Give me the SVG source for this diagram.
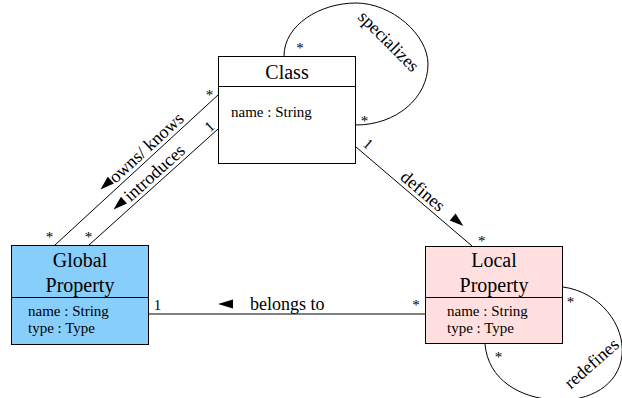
<svg xmlns="http://www.w3.org/2000/svg" width="622" height="398" viewBox="0 0 622 398">
<style>
text{font-family:"Liberation Serif","Times New Roman",serif;fill:#000}
.title{font-size:20px;text-anchor:middle}
.attr{font-size:15px}
.lbl{font-size:18px}
.mult{font-size:15px;text-anchor:middle}
.box{stroke:#000;stroke-width:1}
.edge{fill:none;stroke:#000;stroke-width:1}
.arr{fill:#000;stroke:none}
</style>
<rect width="622" height="398" fill="#fff"/>
<g id="connectors">
  <g id="e-owns">
    <line class="edge" x1="218" y1="95" x2="55" y2="245"/>
    <g transform="translate(55,245) rotate(-42.6)">
      <polygon class="arr" points="71,-10 85,-14.5 85,-5.5"/>
      <text class="lbl" x="133" y="-4" text-anchor="middle">owns/ knows</text>
    </g>
    <text class="mult" x="209.5" y="99.5">*</text>
    <text class="mult" x="49.5" y="241.5">*</text>
  </g>
  <g id="e-introduces">
    <line class="edge" x1="218" y1="129" x2="89" y2="245"/>
    <g transform="translate(89,245) rotate(-41.96)">
      <polygon class="arr" points="42,-10 56,-14.5 56,-5.5"/>
      <text class="lbl" x="97" y="-4" text-anchor="middle">introduces</text>
    </g>
    <text class="mult" transform="translate(209.5,126.5) rotate(-42)" x="0" y="5">1</text>
    <text class="mult" x="88.5" y="241.5">*</text>
  </g>
  <g id="e-defines">
    <line class="edge" x1="356" y1="147" x2="472" y2="246"/>
    <g transform="translate(356,147) rotate(40.48)">
      <text class="lbl" x="79.6" y="-4" text-anchor="middle">defines</text>
      <polygon class="arr" points="133,-9.5 119,-14 119,-5"/>
    </g>
    <text class="mult" transform="translate(368,144) rotate(40.5)" x="0" y="5">1</text>
    <text class="mult" x="481.7" y="246">*</text>
  </g>
  <g id="e-belongs">
    <line class="edge" x1="149" y1="314" x2="425" y2="314"/>
    <polygon class="arr" points="218,304 233,299.5 233,308.5"/>
    <text class="lbl" x="250" y="310">belongs to</text>
    <text class="mult" x="157.5" y="310">1</text>
    <text class="mult" x="416" y="309.5">*</text>
  </g>
  <g id="e-specializes">
    <path class="edge" d="M284,56 C284,25 320,3 356,3 C392,3 428,35 428,64 C428,98 396,125 356,125"/>
    <text class="lbl" transform="translate(384.5,45.5) rotate(45)" x="0" y="0" text-anchor="middle">specializes</text>
    <text class="mult" x="300" y="52.5">*</text>
    <text class="mult" x="364.5" y="125.5">*</text>
  </g>
  <g id="e-redefines">
    <path class="edge" d="M563,287 C600,292 625,325 622,355 C619,385 590,402 555,400 C520,398 488,380 485,344"/>
    <text class="lbl" transform="translate(595.5,368) rotate(-41.3)" x="0" y="0" text-anchor="middle" font-size="17.5">redefines</text>
    <text class="mult" x="570.5" y="306.5">*</text>
    <text class="mult" x="498.5" y="361.5">*</text>
  </g>
</g>
<g id="node-class">
  <rect class="box" x="218.5" y="56.5" width="137" height="107" fill="#fff"/>
  <line class="box" x1="218.5" y1="86.5" x2="355.5" y2="86.5"/>
  <text class="title" x="287" y="79">Class</text>
  <text class="attr" x="231" y="117">name : String</text>
</g>
<g id="node-global">
  <rect class="box" x="11.5" y="245.5" width="137" height="99" fill="#87cefa"/>
  <line class="box" x1="11.5" y1="297.5" x2="148.5" y2="297.5"/>
  <text class="title" x="80" y="267">Global</text>
  <text class="title" x="80" y="292">Property</text>
  <text class="attr" x="28" y="315.5">name : String</text>
  <text class="attr" x="28" y="332.5">type : Type</text>
</g>
<g id="node-local">
  <rect class="box" x="425.5" y="246.5" width="137" height="97" fill="#ffdfdf"/>
  <line class="box" x1="425.5" y1="297.5" x2="562.5" y2="297.5"/>
  <text class="title" x="494" y="267">Local</text>
  <text class="title" x="494" y="292">Property</text>
  <text class="attr" x="447" y="316">name : String</text>
  <text class="attr" x="447" y="333">type : Type</text>
</g>
</svg>
